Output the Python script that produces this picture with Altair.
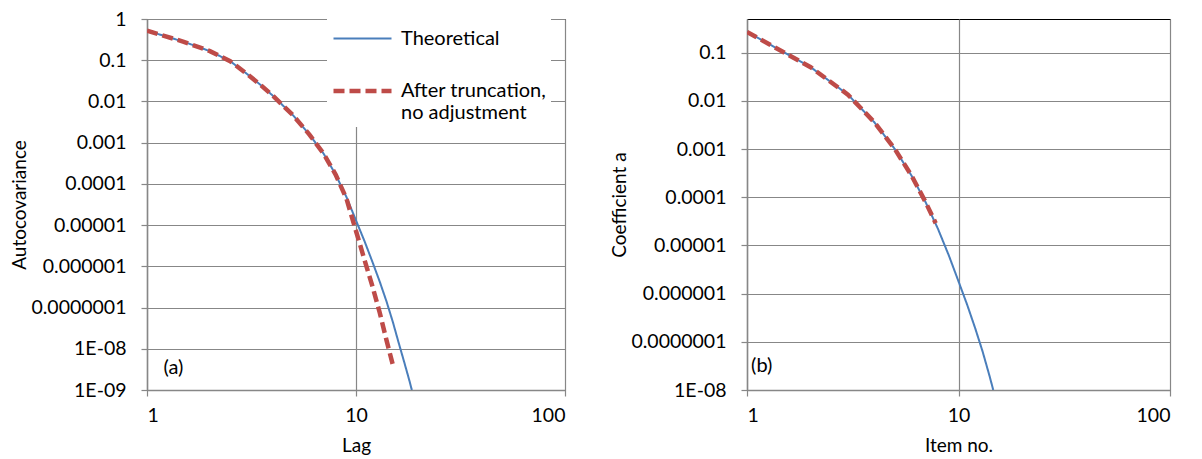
import altair as alt
import pandas as pd

# ---------------- data ----------------
series_names = ["Theoretical", "After truncation, no adjustment"]
legend_lines = [["Theoretical"], ["After truncation,", "no adjustment"]]

# panel (a): autocovariance vs lag
lag_theory = [1, 1.5, 2, 2.5, 3, 3.5, 4, 5, 6, 7, 8, 9, 10, 11, 12, 13, 14, 15, 16,
              17, 18, 18.5]
acov_theory = [0.52, 0.28, 0.166, 0.095, 0.047, 0.025, 0.0138, 0.0046, 0.00155,
               0.00054, 0.000166, 4.8e-5, 1.3e-5, 4.0e-6, 1.26e-6, 4.2e-7, 1.4e-7,
               4.5e-8, 1.4e-8, 4.8e-9, 1.7e-9, 1.0e-9]
lag_trunc = [1, 1.5, 2, 2.5, 3, 3.5, 4, 5, 6, 7, 8, 9, 10, 11, 12, 13, 14, 15]
acov_trunc = [0.52, 0.28, 0.166, 0.095, 0.047, 0.025, 0.0138, 0.0046, 0.00155,
              0.00054, 0.000166, 4.4e-5, 7.2e-6, 1.4e-6, 3.2e-7, 7.4e-8, 1.6e-8,
              4.1e-9]

# panel (b): coefficient a vs item no.
item_theory = [1, 2, 3, 4, 5, 6, 7, 8, 9, 10, 11, 12, 13, 14, 14.6]
coef_theory = [0.27, 0.050, 0.0135, 0.0036, 0.001, 2.8e-4, 7.8e-5, 2.2e-5,
               6.2e-6, 1.8e-6, 5.8e-7, 1.9e-7, 6.3e-8, 2.0e-8, 1.0e-8]
item_trunc = [1, 2, 3, 4, 5, 6, 7, 7.8]
coef_trunc = [0.27, 0.050, 0.0135, 0.0036, 0.001, 2.8e-4, 7.8e-5, 2.9e-5]

x_ticks = [1, 10, 100]
x_tick_labels = ["1", "10", "100"]
y_ticks_a = [1, 0.1, 0.01, 0.001, 1e-4, 1e-5, 1e-6, 1e-7, 1e-8, 1e-9]
y_tick_labels_a = ["1", "0.1", "0.01", "0.001", "0.0001", "0.00001", "0.000001",
                   "0.0000001", "1E-08", "1E-09"]
y_ticks_b = [0.1, 0.01, 0.001, 1e-4, 1e-5, 1e-6, 1e-7, 1e-8]
y_tick_labels_b = ["0.1", "0.01", "0.001", "0.0001", "0.00001", "0.000001",
                   "0.0000001", "1E-08"]

y_domain_a = [1e-9, 1]
y_domain_b = [1e-8, 0.5]
x_domain = [1, 100]

panel_labels = ["(a)", "(b)"]
panel_label_x = [1.2, 1.045]
panel_label_y = [3.4e-9, 3.2e-8]

# ---------------- styling ----------------
FONT = "Lato"
FS = 19.5      # tick labels
FS_T = 19      # axis titles
FS_L = 20      # legend and panel tags
BLUE = "#4A7EBB"
RED = "#BE4B48"
GRID = "#878787"


def label_expr(labels, first_exp):
    arr = "[" + ",".join("'%s'" % s for s in labels) + "]"
    return "%s[round(-log(datum.value)/LN10) - %d]" % (arr, first_exp)


x_label_expr = "[" + ",".join("'%s'" % s for s in x_tick_labels) + "][round(log(datum.value)/LN10)]"

legend_expr = " : ".join(
    "datum.label == '%s' ? [%s]" % (n, ",".join("'%s'" % l for l in ls))
    for n, ls in zip(series_names, legend_lines)
) + " : datum.label"

color_scale = alt.Scale(domain=series_names, range=[BLUE, RED])
dash_scale = alt.Scale(domain=series_names, range=[[1, 0], [11, 5]])
width_scale = alt.Scale(domain=series_names, range=[2, 4.5])


def make_panel(xv, yv, xv2, yv2, ydom, yticks, ylabels, first_exp, xtitle, ytitle,
               plabel, plx, ply, width, height, show_legend):
    df1 = pd.DataFrame({"x": xv, "y": yv, "series": series_names[0]})
    df2 = pd.DataFrame({"x": xv2, "y": yv2, "series": series_names[1]})
    if show_legend:
        leg = alt.Legend(orient="none", legendX=180, legendY=0, title=None,
                         fillColor="white", padding=4, symbolType="M-1,0H3",
                         symbolSize=841, labelFont=FONT, labelFontSize=FS_L,
                         labelColor="black", labelOffset=36, labelLimit=400,
                         rowPadding=25, labelExpr=legend_expr)
    else:
        leg = None
    xenc = alt.X("x:Q", scale=alt.Scale(type="log", domain=x_domain),
                 axis=alt.Axis(values=x_ticks, labelExpr=x_label_expr, title=xtitle,
                               grid=True, tickSize=6, labelPadding=10,
                               titlePadding=12))
    yenc = alt.Y("y:Q", scale=alt.Scale(type="log", domain=ydom),
                 axis=alt.Axis(values=yticks, labelExpr=label_expr(ylabels, first_exp),
                               title=ytitle, grid=True, tickSize=6, labelPadding=15,
                               titlePadding=1))
    col = alt.Color("series:N", scale=color_scale, legend=leg)
    dash = alt.StrokeDash("series:N", scale=dash_scale, legend=leg)
    sw = alt.StrokeWidth("series:N", scale=width_scale, legend=leg)
    l1 = alt.Chart(df1).mark_line(clip=True).encode(
        x=xenc, y=yenc, color=col, strokeDash=dash, strokeWidth=sw)
    l2 = alt.Chart(df2).mark_line(clip=True, strokeCap="butt").encode(
        x=xenc, y=yenc, color=col, strokeDash=dash, strokeWidth=sw)
    tdf = pd.DataFrame({"x": [plx], "y": [ply], "t": [plabel]})
    txt = alt.Chart(tdf).mark_text(font=FONT, fontSize=FS_L, align="left",
                                   baseline="middle", color="black").encode(
        x=alt.X("x:Q", scale=alt.Scale(type="log", domain=x_domain)),
        y=alt.Y("y:Q", scale=alt.Scale(type="log", domain=ydom)),
        text="t:N")
    return alt.layer(l1, l2, txt).properties(width=width, height=height)


pa = make_panel(lag_theory, acov_theory, lag_trunc, acov_trunc, y_domain_a,
                y_ticks_a, y_tick_labels_a, 0, "Lag", "Autocovariance",
                panel_labels[0], panel_label_x[0], panel_label_y[0], 418, 371, True)
pb = make_panel(item_theory, coef_theory, item_trunc, coef_trunc, y_domain_b,
                y_ticks_b, y_tick_labels_b, 1, "Item no.", "Coefficient a",
                panel_labels[1], panel_label_x[1], panel_label_y[1], 423, 371, False)

chart = alt.hconcat(pa, pb, spacing=43).resolve_scale(
    color="independent", strokeDash="independent", strokeWidth="independent",
    x="independent", y="independent"
).properties(
    padding={"left": 2, "top": 0, "right": 5, "bottom": 0}
).configure_view(
    stroke="black", strokeWidth=1
).configure_axis(
    labelFont=FONT, labelFontSize=FS, labelColor="black",
    titleFont=FONT, titleFontSize=FS_T, titleColor="black", titleFontWeight="normal",
    gridColor=GRID, gridWidth=1.2, gridOpacity=1,
    domainColor=GRID, domainWidth=1.5, tickColor=GRID, tickWidth=1.2
)

chart.save("out.html", embed_options={"renderer": "svg", "actions": False})
